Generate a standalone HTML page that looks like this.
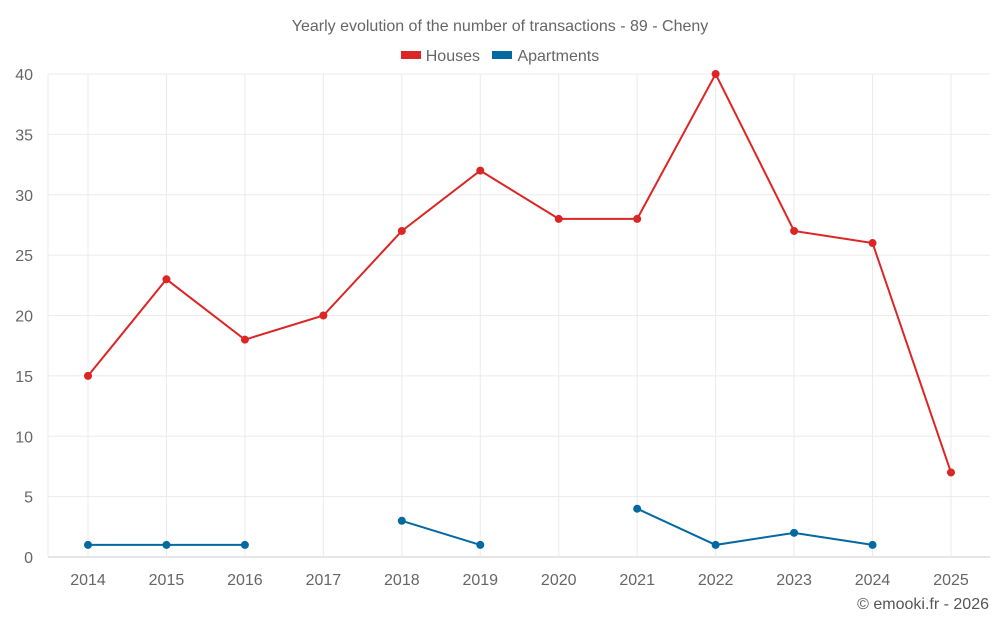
<!DOCTYPE html>
<html><head><meta charset="utf-8"><style>
html,body{margin:0;padding:0;background:#fff;width:1000px;height:625px;overflow:hidden}
svg{display:block;font-family:"Liberation Sans",sans-serif}
</style></head><body>
<svg id="c" width="1000" height="625"></svg>
<script>
const years=["2014","2015","2016","2017","2018","2019","2020","2021","2022","2023","2024","2025"];
const houses=[15,23,18,20,27,32,28,28,40,27,26,7];
const apartments=[1,1,1,null,3,1,null,4,1,2,1,null];
const yTicks=[0,5,10,15,20,25,30,35,40];
const svg=document.getElementById('c');
const NS='http://www.w3.org/2000/svg';
const L=48,R=990,T=74,B=557;
const step=(951-88)/11;
function x(i){return 88+i*step;}
function y(v){return B-(v/40)*(B-T);}
function el(t,a,p){const e=document.createElementNS(NS,t);for(const k in a)e.setAttribute(k,a[k]);(p||svg).appendChild(e);return e;}
yTicks.forEach(v=>{
 const g=el('line',{x1:L,x2:R,y1:y(v),y2:y(v),stroke:v===0?'#ccc':'#ebebeb','stroke-width':1});
 
 
 const t=el('text',{x:33,y:y(v)+6,'text-anchor':'end','font-size':16,fill:'#666'});
 t.textContent=v;
 
 
});
el('line',{x1:L,x2:L,y1:T,y2:B,stroke:'#ebebeb'});
years.forEach((yr,i)=>{
 const g=el('line',{x1:x(i),x2:x(i),y1:T,y2:B,stroke:'#ebebeb'});
 
 
 const t=el('text',{x:x(i),y:585,'text-anchor':'middle','font-size':16,fill:'#666'});
 t.textContent=yr;
 
 
});
function series(vals,color,name){
 let d='',pen=false;
 vals.forEach((v,i)=>{if(v===null){pen=false;return;}d+=(pen?'L':'M')+x(i)+' '+y(v)+' ';pen=true;});
 const p=el('path',{d:d,fill:'none',stroke:color,'stroke-width':2});
 
 
 vals.forEach((v,i)=>{if(v===null)return;
  const c=el('circle',{cx:x(i),cy:y(v),r:4,fill:color});
  
  
 });
}
series(houses,'#dc2626','houses');
series(apartments,'#0369a1','apartments');
</script>
<div style="position:absolute;left:0;top:0;width:1000px;height:625px;pointer-events:none;font-family:'Liberation Sans',sans-serif">
<div style="position:absolute;top:18px;width:1000px;text-align:center;font-size:16px;color:#666">Yearly evolution of the number of transactions - 89 - Cheny</div>
<div style="position:absolute;top:48px;left:0;width:1000px;text-align:center;font-size:16px;color:#666">
<span><span style="display:inline-block;width:20px;height:8px;background:#dc2626;margin-right:5px;vertical-align:2px"></span>Houses</span>
<span style="margin-left:8px"><span style="display:inline-block;width:20px;height:8px;background:#0369a1;margin-right:5px;vertical-align:2px"></span>Apartments</span>
</div>
<div style="position:absolute;right:11px;top:596px;font-size:16px;color:#555">© emooki.fr - 2026</div>
</div>
</body></html>
